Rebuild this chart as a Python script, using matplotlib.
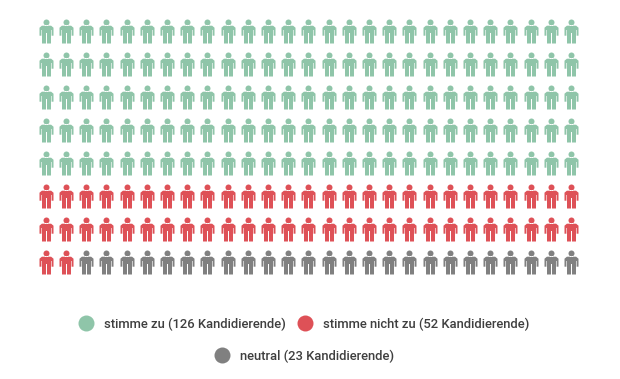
import matplotlib
matplotlib.use("Agg")
import matplotlib.pyplot as plt
import numpy as np
from matplotlib.path import Path

plt.rcParams["font.family"] = ["Roboto", "DejaVu Sans"]

labels = ["stimme zu (126 Kandidierende)",
          "stimme nicht zu (52 Kandidierende)",
          "neutral (23 Kandidierende)"]
# 126 / 52 / 23 candidates scaled onto the 216 icons of the grid
icon_counts = [135, 56, 25]
colors = ["#8FC5A9", "#DE5157", "#808080"]
n_cols = 27
n_rows = 8


def person():
    # px units, centre of the icon at 0, y up
    head = Path.circle((0, 9.0), 3.0)
    verts = [(-4.6, 5.8), (4.6, 5.8), (7, 3.8), (7, -4.2), (5.1, -4.2), (5.1, 1.5),
             (4.5, 1.5), (4.5, -12), (0.5, -12), (0.5, -1.5), (-0.5, -1.5),
             (-0.5, -12), (-4.5, -12), (-4.5, 1.5), (-5.1, 1.5), (-5.1, -4.2),
             (-7, -4.2), (-7, 3.8), (-4.6, 5.8)]
    codes = [Path.MOVETO] + [Path.LINETO] * (len(verts) - 2) + [Path.CLOSEPOLY]
    body = Path(verts, codes)
    return Path.make_compound_path(head, body)


fig = plt.figure(figsize=(6.2, 3.79), dpi=100)
ax = fig.add_axes([0, 0, 1, 1])
ax.set_xlim(0, 620)
ax.set_ylim(379, 0)
ax.axis("off")

xs = np.linspace(45.8, 571, n_cols)
ys = np.linspace(30.8, 261.8, n_rows)
gx, gy = np.meshgrid(xs, ys)
gx = gx.ravel()
gy = gy.ravel()

# the marker gets normalised so that its largest coordinate (12 px) is 0.5 of its size
side = 24 * 72 / 100
marker = person()
start = 0
for count, color in zip(icon_counts, colors):
    ax.scatter(gx[start:start + count], gy[start:start + count], s=side ** 2,
               marker=marker, color=color, linewidths=0)
    start += count

legend_x = [86, 305, 222]
legend_y = [323, 323, 355]
for x, y, color, label in zip(legend_x, legend_y, colors, labels):
    ax.scatter([x], [y], s=(16 * 72 / 100) ** 2, color=color, linewidths=0)
    t = ax.text(x + 18, y, label, fontsize=9.4, fontweight="medium", color="#3F3F3F",
                va="center_baseline", ha="left")

fig.savefig("out.png", dpi=100)
plt.close()
